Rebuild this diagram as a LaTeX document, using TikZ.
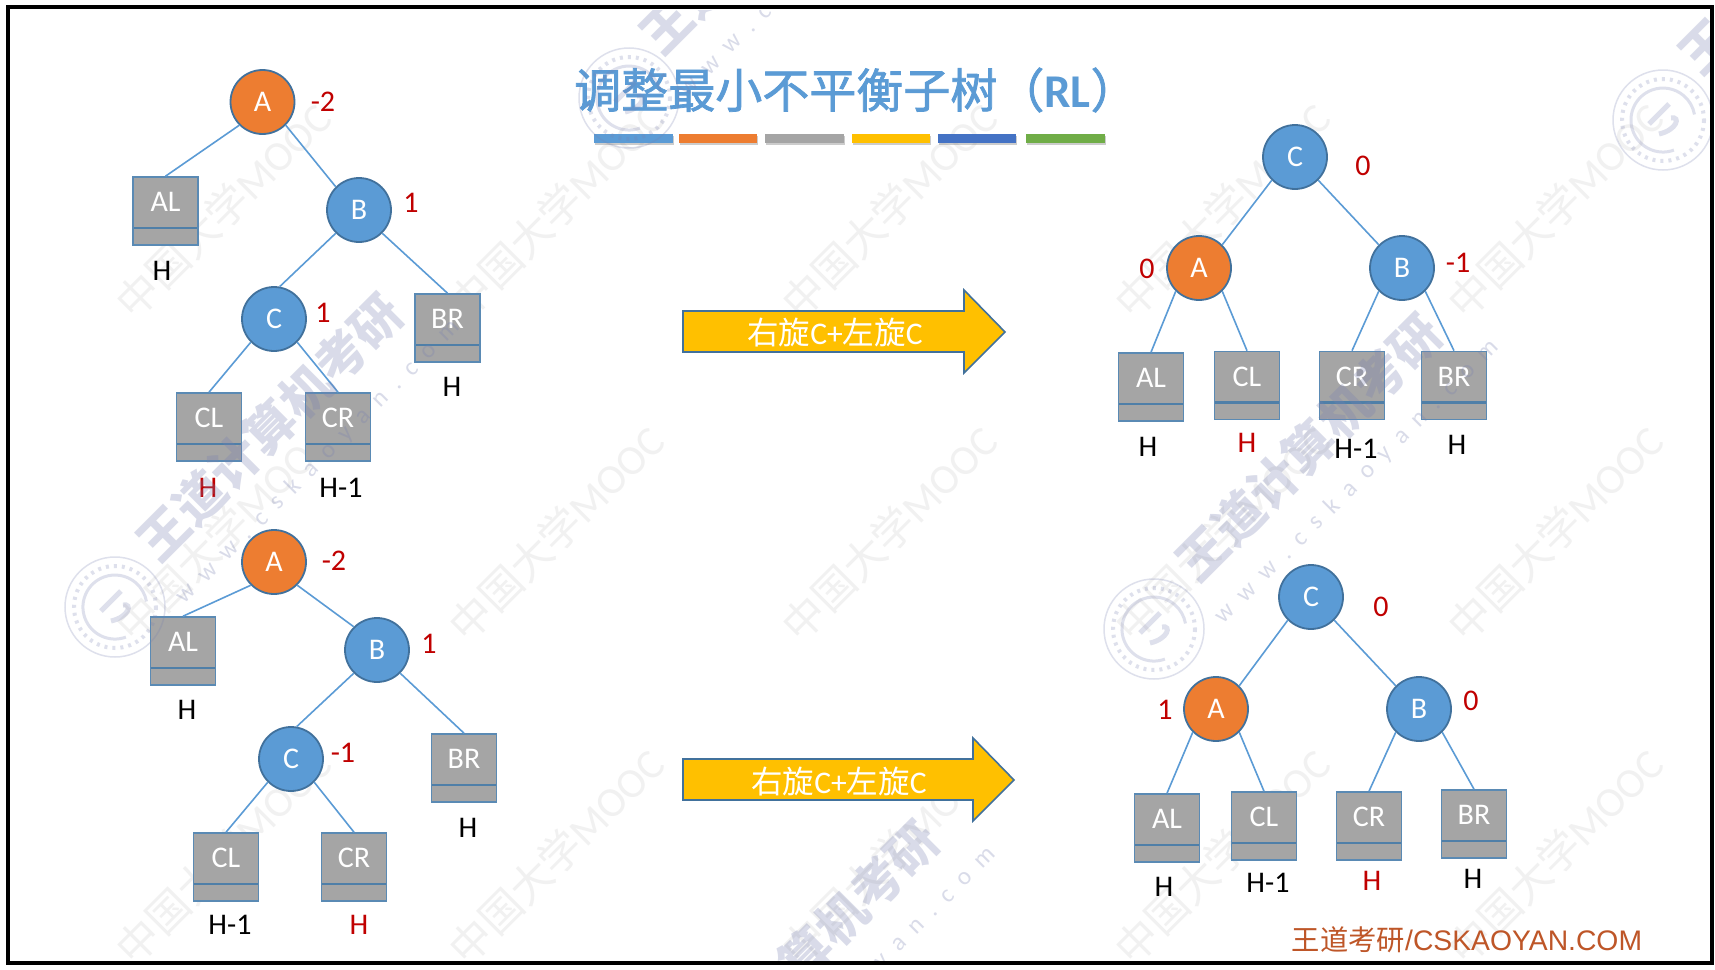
\documentclass[tikz,border=0pt]{standalone}
\usepackage{fontspec}
\setmainfont{Carlito}
\newfontfamily\cjk{Noto Sans CJK SC}
\newfontfamily\cjkt[FakeBold=1.6]{Noto Sans CJK SC}
\newfontfamily\foot{Liberation Sans}
\definecolor{bluefill}{HTML}{5B9BD5}
\definecolor{orangefill}{HTML}{ED7D31}
\definecolor{greyfill}{HTML}{A5A5A5}
\definecolor{goldfill}{HTML}{FFC000}
\definecolor{bluedeep}{HTML}{4472C4}
\definecolor{greenfill}{HTML}{70AD47}
\definecolor{edgeblue}{HTML}{41719C}
\definecolor{boxedge}{HTML}{5A8AB4}
\definecolor{dividerblue}{HTML}{4F7FA8}
\definecolor{redtxt}{HTML}{C00000}
\definecolor{foottxt}{HTML}{BE5628}
\definecolor{wmpale}{HTML}{F1F1F1}
\definecolor{wmbold}{HTML}{7880B0}
\tikzset{
  x=1pt,y=-1pt,
  fsz/.style={font=\fontsize{#1}{#1}\selectfont},
  treenode/.style={circle,draw=edgeblue,line width=1.8pt,minimum size=64pt,inner sep=0pt,text=white,fsz=30},
  nodeblue/.style={treenode,fill=bluefill},
  nodeorange/.style={treenode,fill=orangefill},
  boxlabel/.style={text=white,fsz=30,inner sep=0pt,yshift=9pt},
  subbox/.style={rectangle,draw=boxedge,fill=greyfill,line width=1.6pt,minimum width=65pt,minimum height=68pt,inner sep=0pt,
    label={[boxlabel]center:#1},
    path picture={\draw[draw=dividerblue,line width=2.6pt] ([yshift=-17pt]path picture bounding box.west) -- ([yshift=-17pt]path picture bounding box.east);}},
  val/.style={text=redtxt,fsz=30,inner sep=0pt},
  hgt/.style={text=black,fsz=30,inner sep=0pt},
  hgtred/.style={text=redtxt,fsz=30,inner sep=0pt},
  link/.style={draw=bluefill,line width=1.6pt},
  bigarrow/.style={draw=edgeblue,fill=goldfill,line width=1.6pt,line join=miter},
  arrowtext/.style={text=white,fsz=31.5,inner sep=0pt},
  barshade/.style={fill=gray,opacity=.4},
  wmsoft/.style={text=wmpale,rotate=45,inner sep=0pt,fsz=42},
  wmstrong/.style={text=wmbold,opacity=.28,rotate=45,inner sep=0pt,fsz=50},
  wmurl/.style={text=wmbold,opacity=.28,rotate=45,inner sep=0pt,fsz=25},
  wmring/.style={draw=wmbold,opacity=.24},
}
\begin{document}
\begin{tikzpicture}
\useasboundingbox (0,0) rectangle (1715,969);
\fill[white] (0,0) rectangle (1715,969);
% pale watermarks
\begin{scope}
\clip (10,10) rectangle (1710,961);
\foreach \cx in {223,556,889,1222,1555}
  \foreach \cy in {210,533,856}
    \node[wmsoft] at (\cx,\cy) {{\cjk 中国大学}MOOC};
\end{scope}

% title
\node[text=bluefill,fsz=47,inner sep=0pt,anchor=center] (title) at (856,90) {{\cjkt 调整最小不平衡子树（}\textbf{RL}{\cjkt ）}};
\foreach \xa/\xb/\col in {594/672.5/bluefill,679/757/orangefill,765/844/greyfill,852/930/goldfill,938/1016/bluedeep,1026/1105/greenfill}{
  \fill[barshade] (\xa+1,136) rectangle (\xb+1,145);
  \fill[\col] (\xa,134) rectangle (\xb,143);
}

% tree 1
\node[nodeorange] (a1) at (262.5,102) {A};
\node[nodeblue] (b1) at (359,210) {B};
\node[nodeblue] (c1) at (274,319) {C};
\node[subbox=AL] (al1) at (165.5,211) {};
\node[subbox=BR] (br1) at (447.5,328) {};
\node[subbox=CL] (cl1) at (209,427) {};
\node[subbox=CR] (cr1) at (338,427) {};
\draw[link] (a1.225) -- (al1.north);
\draw[link] (a1.315) -- (b1.135);
\draw[link] (b1.225) -- (c1.80);
\draw[link] (b1.315) -- (br1.north);
\draw[link] (c1.225) -- (cl1.north);
\draw[link] (c1.315) -- (cr1.north);
\node[val] (v1a) at (323,102) {-2};
\node[val] (v1b) at (411,203) {1};
\node[val] (v1c) at (323,313) {1};
\node[hgt] (h1al) at (162,271) {H};
\node[hgt] (h1br) at (452,387) {H};
\node[hgtred] (h1cl) at (208,488) {H};
\node[hgt] (h1cr) at (341,488) {H-1};

% tree 2
\node[nodeorange] (a2) at (274,562) {A};
\node[nodeblue] (b2) at (377,650) {B};
\node[nodeblue] (c2) at (291,759) {C};
\node[subbox=AL] (al2) at (183,651) {};
\node[subbox=BR] (br2) at (464,768) {};
\node[subbox=CL] (cl2) at (226,867) {};
\node[subbox=CR] (cr2) at (354,867) {};
\draw[link] (a2.225) -- (al2.north);
\draw[link] (a2.315) -- (b2.135);
\draw[link] (b2.225) -- (c2.80);
\draw[link] (b2.315) -- (br2.north);
\draw[link] (c2.225) -- (cl2.north);
\draw[link] (c2.315) -- (cr2.north);
\node[val] (v2a) at (334,561) {-2};
\node[val] (v2b) at (429,644) {1};
\node[val] (v2c) at (343,753) {-1};
\node[hgt] (h2al) at (187,710) {H};
\node[hgt] (h2br) at (468,828) {H};
\node[hgt] (h2cl) at (230,925) {H-1};
\node[hgtred] (h2cr) at (359,925) {H};

% tree 3
\node[nodeblue] (c3) at (1295,157) {C};
\node[nodeorange] (a3) at (1199,268) {A};
\node[nodeblue] (b3) at (1402,268) {B};
\node[subbox=AL] (al3) at (1151,387) {};
\node[subbox=CL] (cl3) at (1247,385.5) {};
\node[subbox=CR] (cr3) at (1352,385.5) {};
\node[subbox=BR] (br3) at (1454,385.5) {};
\draw[link] (c3.225) -- (a3.45);
\draw[link] (c3.315) -- (b3.135);
\draw[link] (a3.225) -- (al3.north);
\draw[link] (a3.315) -- (cl3.north);
\draw[link] (b3.225) -- (cr3.north);
\draw[link] (b3.315) -- (br3.north);
\node[val] (v3c) at (1363,166) {0};
\node[val] (v3a) at (1147,269) {0};
\node[val] (v3b) at (1458,263) {-1};
\node[hgt] (h3al) at (1148,447) {H};
\node[hgtred] (h3cl) at (1247,443) {H};
\node[hgt] (h3cr) at (1356,449) {H-1};
\node[hgt] (h3br) at (1457,445) {H};

% tree 4
\node[nodeblue] (c4) at (1311,597) {C};
\node[nodeorange] (a4) at (1216,709) {A};
\node[nodeblue] (b4) at (1419,709) {B};
\node[subbox=AL] (al4) at (1167,828) {};
\node[subbox=CL] (cl4) at (1264,826) {};
\node[subbox=CR] (cr4) at (1369,826) {};
\node[subbox=BR] (br4) at (1474,824) {};
\draw[link] (c4.225) -- (a4.45);
\draw[link] (c4.315) -- (b4.135);
\draw[link] (a4.225) -- (al4.north);
\draw[link] (a4.315) -- (cl4.north);
\draw[link] (b4.225) -- (cr4.north);
\draw[link] (b4.315) -- (br4.north);
\node[val] (v4c) at (1381,607) {0};
\node[val] (v4a) at (1165,710) {1};
\node[val] (v4b) at (1471,701) {0};
\node[hgt] (h4al) at (1164,887) {H};
\node[hgt] (h4cl) at (1268,883) {H-1};
\node[hgtred] (h4cr) at (1372,881) {H};
\node[hgt] (h4br) at (1473,879) {H};

% arrows
\draw[bigarrow] (683,311) -- (964,311) -- (964,290) -- (1005,332) -- (964,373) -- (964,352) -- (683,352) -- cycle;
\node[arrowtext] (t1) at (835,333) {{\cjk 右旋}C+{\cjk 左旋}C};
\draw[bigarrow] (683,759) -- (973,759) -- (973,738) -- (1014,780) -- (973,821) -- (973,800) -- (683,800) -- cycle;
\node[arrowtext] (t2) at (839,782) {{\cjk 右旋}C+{\cjk 左旋}C};

% footer
\node[text=foottxt,fsz=28.3,inner sep=0pt] (foot) at (1467,940) {{\cjk 王道考研}{\foot/CSKAOYAN.COM}};

% strong watermarks, logos
\begin{scope}
\clip (10,10) rectangle (1710,961);
\foreach \dx/\dy in {0/0,1039/20,536/527,503/-507,1542/-487}{
  \node[wmstrong] at (270+\dx,427+\dy) {{\cjk\bfseries 王道计算机考研}};
  \node[wmurl] at (318+\dx,462+\dy) {w\,\,\,w\,\,\,w\,\,\,.\,\,\,c\,\,\,s\,\,\,k\,\,\,a\,\,\,o\,\,\,y\,\,\,a\,\,\,n\,\,\,.\,\,\,c\,\,\,o\,\,\,m};
}
\foreach \lx/\ly in {629/98,1663/120,115/607,1154/629}{
  \draw[wmring,line width=1.5pt] (\lx,\ly) circle (50);
  \draw[wmring,line width=4pt,dash pattern=on 3pt off 5pt] (\lx,\ly) circle (41);
  \draw[wmring,line width=3pt] (\lx+10.9,\ly+30.1) arc[start angle=70,end angle=350,radius=32];
  \draw[wmring,line width=5pt] (\lx-14,\ly+4) -- (\lx+6,\ly-16);
  \draw[wmring,line width=5pt] (\lx-4,\ly+14) .. controls (\lx+14,\ly+10) and (\lx+18,\ly-4) .. (\lx+8,\ly-2);
}
\end{scope}

% frame
\draw[black,line width=3.6pt] (8,7) rectangle (1712,963);
\end{tikzpicture}
\end{document}
